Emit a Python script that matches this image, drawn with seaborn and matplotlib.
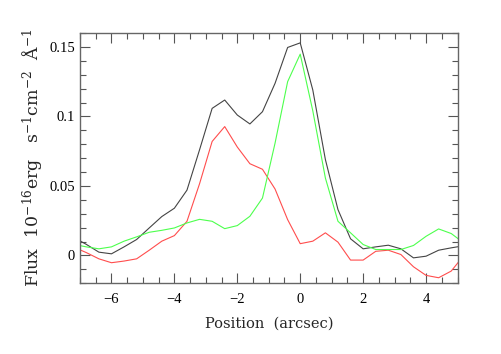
import numpy as np
import pandas as pd
import matplotlib
matplotlib.use("Agg")
import matplotlib.pyplot as plt
import seaborn as sns
from matplotlib.ticker import MultipleLocator, FuncFormatter

# slit positions (arcsec), one sample every 0.4"
position = [-7.2, -6.8, -6.4, -6.0, -5.6, -5.2, -4.8, -4.4, -4.0, -3.6, -3.2,
            -2.8, -2.4, -2.0, -1.6, -1.2, -0.8, -0.4, 0.0, 0.4, 0.8, 1.2,
            1.6, 2.0, 2.4, 2.8, 3.2, 3.6, 4.0, 4.4, 4.8, 5.2]

total = [0.013, 0.008, 0.0024, 0.0012, 0.0062, 0.0115, 0.0198, 0.028, 0.034,
         0.047, 0.076, 0.1058, 0.1118, 0.101, 0.0946, 0.1034, 0.1238, 0.1496,
         0.1529, 0.119, 0.069, 0.033, 0.012, 0.0048, 0.0062, 0.0074, 0.0048,
         -0.0017, -0.0005, 0.0038, 0.0055, 0.007]

red = [0.006, 0.0021, -0.0024, -0.0052, -0.004, -0.0024, 0.0038, 0.0103,
       0.0143, 0.0246, 0.0516, 0.082, 0.0927, 0.078, 0.066, 0.062, 0.0478,
       0.0258, 0.0085, 0.0103, 0.0163, 0.0096, -0.0033, -0.0033, 0.003,
       0.0038, 0.0007, -0.0081, -0.0143, -0.016, -0.0112, 0.0]

green = [0.008, 0.0062, 0.0048, 0.0062, 0.0103, 0.0134, 0.0167, 0.0181,
         0.0198, 0.0234, 0.026, 0.0246, 0.0193, 0.0215, 0.0282, 0.0413,
         0.0808, 0.125, 0.1448, 0.104, 0.0557, 0.0246, 0.0163, 0.0079,
         0.0043, 0.0043, 0.0043, 0.0072, 0.0138, 0.0191, 0.0158, 0.009]

df = pd.DataFrame({
    "pos": position * 3,
    "flux": total + red + green,
    "comp": ["total"] * len(total) + ["red"] * len(red) + ["green"] * len(green),
})

sns.set_style("ticks")
plt.rcParams["font.family"] = ["DejaVu Serif"]
plt.rcParams["mathtext.default"] = "regular"

fig = plt.figure(figsize=(5.01, 3.54), dpi=100)
ax = fig.add_axes([0.1597, 0.1997, 0.7535, 0.7071])

sns.lineplot(data=df, x="pos", y="flux", hue="comp",
             palette={"total": "#444444", "red": "#ff4d4d", "green": "#4dff4d"},
             linewidth=0.8, legend=False, ax=ax)

ax.set_xlim(-7, 5)
ax.set_ylim(-0.02, 0.16)

ax.xaxis.set_major_locator(MultipleLocator(2))
ax.xaxis.set_minor_locator(MultipleLocator(0.5))
ax.yaxis.set_major_locator(MultipleLocator(0.05))
ax.yaxis.set_minor_locator(MultipleLocator(0.01))

fmt = FuncFormatter(lambda v, p: ("%g" % round(v, 4)).replace("-", "\u2212"))
ax.xaxis.set_major_formatter(fmt)
ax.yaxis.set_major_formatter(fmt)

ax.tick_params(which="both", direction="in", top=True, right=True,
               color="#555555", width=0.8, labelsize=10.5, labelcolor="black")
for lab in ax.get_xticklabels() + ax.get_yticklabels():
    lab.set_family("Liberation Serif")
ax.tick_params(which="major", length=7)
ax.tick_params(which="minor", length=4)
ax.tick_params(axis="x", pad=7)
for s in ax.spines.values():
    s.set_color("#666666")
    s.set_linewidth(1.0)

ax.set_xlabel("Position  (arcsec)", fontsize=10.5, labelpad=8)
ax.set_ylabel("Flux  10$^{-16}$erg   s$^{-1}$cm$^{-2}$  Å$^{-1}$", fontsize=12.5, labelpad=3)

fig.savefig("out.png", dpi=100)
